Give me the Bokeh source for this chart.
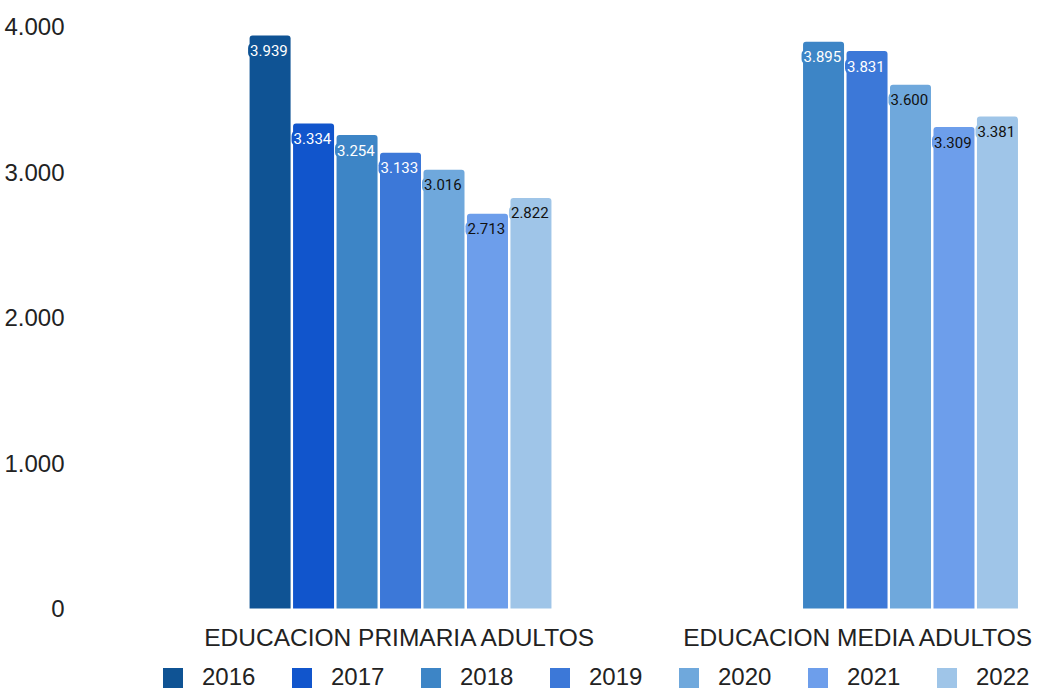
from bokeh.plotting import figure
from bokeh.models import (ColumnDataSource, Range1d, FixedTicker, Legend, LegendItem)
from bokeh.transform import dodge
from bokeh.core.properties import value
from bokeh.embed import file_html
from bokeh.resources import INLINE

# ---- data ----
categories = ["EDUCACION PRIMARIA ADULTOS", "EDUCACION MEDIA ADULTOS"]
years = ["2016", "2017", "2018", "2019", "2020", "2021", "2022"]
v2016 = [3939, None]
v2017 = [3334, None]
v2018 = [3254, 3895]
v2019 = [3133, 3831]
v2020 = [3016, 3600]
v2021 = [2713, 3309]
v2022 = [2822, 3381]
series = [v2016, v2017, v2018, v2019, v2020, v2021, v2022]
y_ticks = [0, 1000, 2000, 3000, 4000]

colors = ["#0f5394", "#1155cc", "#3d85c6", "#3c78d8", "#6fa8dc", "#6d9eeb", "#9fc5e8"]
label_colors = ["#ffffff", "#ffffff", "#ffffff", "#ffffff", "#111111", "#111111", "#111111"]

def fmt(v):
    return f"{v:,}".replace(",", ".")

W, H = 1034, 692
# frame runs to the bottom of the figure so the category labels and legend sit inside it
p = figure(width=W, height=H, output_backend="svg", toolbar_location=None,
           x_range=Range1d(-0.686, 1.359), y_range=Range1d(-577, 4000),
           min_border_left=80, min_border_right=0, min_border_top=26,
           min_border_bottom=0)
p.outline_line_color = None
p.xgrid.grid_line_color = None
p.ygrid.grid_line_color = None
p.xaxis.visible = False

slot = 0.0932
bar_w = 0.0879
renderers = []
for i, (yr, vals) in enumerate(zip(years, series)):
    xs = [j for j, v in enumerate(vals) if v is not None]
    ys = [v for v in vals if v is not None]
    src = ColumnDataSource(dict(x=xs, y=ys, t=[fmt(v) for v in ys]))
    off = (i - 3) * slot
    r = p.vbar(x=dodge("x", off), top="y", width=bar_w, source=src,
               fill_color=colors[i], line_color=None,
               border_radius=(3, 3, 0, 0))
    renderers.append(r)
    p.text(x=dodge("x", off), y="y", text="t", source=src,
           x_offset=-22, y_offset=15, text_align="left", text_baseline="middle",
           text_font=value("Roboto"), text_font_size="15px",
           text_color=label_colors[i],
           background_fill_color=colors[i], border_radius=5, padding=2)

# category labels under the baseline
cat_src = ColumnDataSource(dict(x=list(range(len(categories))), y=[0] * len(categories),
                                t=categories, dx=[0, -8]))
p.text(x="x", y="y", text="t", source=cat_src, x_offset="dx", y_offset=29,
       text_align="center", text_baseline="middle",
       text_font=value("Liberation Sans"), text_font_size="24.5px",
       text_color="#222222")

p.yaxis.ticker = FixedTicker(ticks=y_ticks)
p.yaxis.major_label_overrides = {t: fmt(t) for t in y_ticks}
p.yaxis.axis_line_color = None
p.yaxis.major_tick_line_color = None
p.yaxis.minor_tick_line_color = None
p.yaxis.major_label_text_font = "Liberation Sans"
p.yaxis.major_label_text_font_size = "24px"
p.yaxis.major_label_text_color = "#222222"
p.yaxis.major_label_standoff = 10

legend = Legend(items=[LegendItem(label=yr, renderers=[r]) for yr, r in zip(years, renderers)],
                orientation="horizontal", location=(80, 1),
                glyph_width=25, glyph_height=25, label_standoff=17, label_width=61,
                spacing=26, padding=0, margin=0,
                border_line_color=None, background_fill_alpha=0,
                label_text_font="Liberation Sans", label_text_font_size="24px",
                label_text_color="#222222")
p.add_layout(legend, "center")

open("out.html", "w").write(file_html(p, INLINE))
